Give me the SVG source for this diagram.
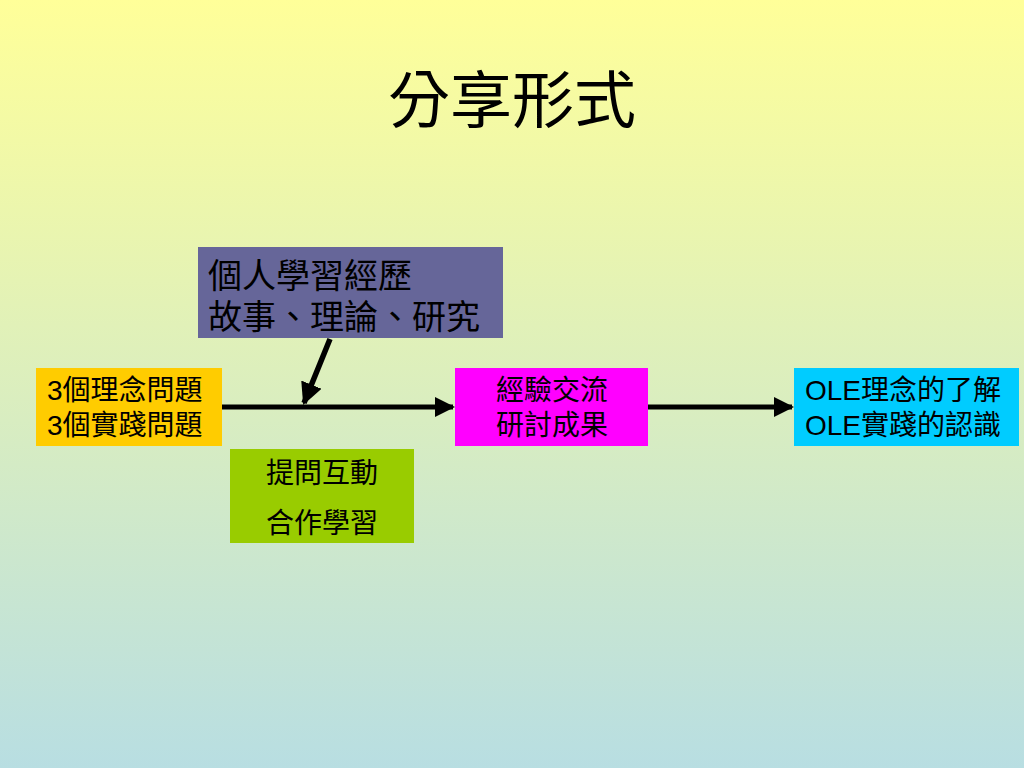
<svg xmlns="http://www.w3.org/2000/svg" width="1024" height="768" viewBox="0 0 1024 768">
<defs>
<linearGradient id="bg" x1="0" y1="0" x2="0" y2="1">
<stop offset="0" stop-color="#FFFF99"/>
<stop offset="1" stop-color="#B8DEE2"/>
</linearGradient>
<marker id="ah" markerWidth="4" markerHeight="4" refX="3.6" refY="2" orient="auto" markerUnits="strokeWidth">
<path d="M0,0 L4,2 L0,4 Z" fill="#000"/>
</marker>
<style>
text{font-family:"Liberation Sans","Noto Sans CJK TC",sans-serif;fill:#000}
.t24{font-size:28px}
.t30{font-size:34px}
.c{text-anchor:middle}
.conn{stroke:#000;stroke-width:5;fill:none}
</style>
</defs>
<rect width="1024" height="768" fill="url(#bg)"/>
<text x="512" y="123" class="c" style="font-size:62px;font-family:'Noto Sans CJK TC',sans-serif">分享形式</text>
<g id="connectors">
<line class="conn" x1="222" y1="407" x2="453" y2="407" marker-end="url(#ah)"/>
<line class="conn" x1="330" y1="339" x2="304" y2="403" style="stroke-width:5.5" marker-end="url(#ah)"/>
<line class="conn" x1="648" y1="407" x2="792" y2="407" marker-end="url(#ah)"/>
</g>
<g id="n-personal">
<rect x="198" y="247" width="305" height="91" fill="#666699"/>
<text x="208" y="288" class="t30">個人學習經歷</text>
<text x="208" y="329" class="t30">故事、理論、研究</text>
</g>
<g id="n-questions">
<rect x="36" y="368" width="186" height="78" fill="#FFCC00"/>
<text x="47" y="400" class="t24">3個理念問題</text>
<text x="47" y="435" class="t24">3個實踐問題</text>
</g>
<g id="n-interact">
<rect x="230" y="449" width="184" height="94" fill="#99CC00"/>
<text x="322" y="483" class="t24 c">提問互動</text>
<text x="322" y="533" class="t24 c">合作學習</text>
</g>
<g id="n-exchange">
<rect x="455" y="368" width="193" height="78" fill="#FF00FF"/>
<text x="552" y="400" class="t24 c">經驗交流</text>
<text x="552" y="435" class="t24 c">研討成果</text>
</g>
<g id="n-ole">
<rect x="794" y="368" width="225" height="78" fill="#00CCFF"/>
<text x="805" y="400" class="t24">OLE理念的了解</text>
<text x="805" y="435" class="t24">OLE實踐的認識</text>
</g>
</svg>
